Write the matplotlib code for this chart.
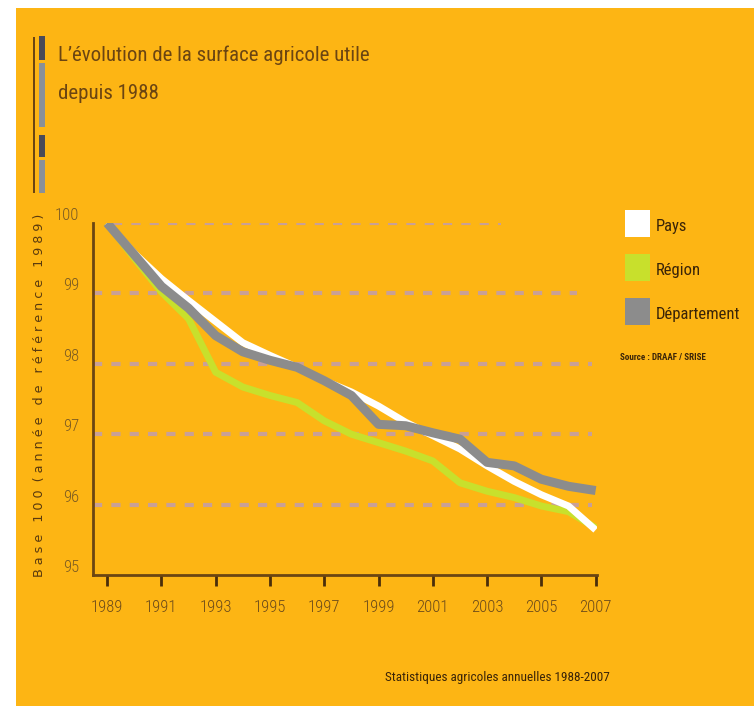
import matplotlib

matplotlib.use("Agg")
import matplotlib.pyplot as plt
from matplotlib import font_manager
from matplotlib.patches import Rectangle

# data (base 100 = 1989)
years = list(range(1989, 2008))
pays = [100.0, 99.57, 99.21, 98.9, 98.6, 98.3, 98.12, 97.95, 97.76, 97.6,
        97.4, 97.17, 96.98, 96.79, 96.55, 96.33, 96.14, 95.98, 95.64]
region = [100.0, 99.5, 99.02, 98.64, 97.88, 97.67, 97.55, 97.45, 97.19, 97.0,
          96.88, 96.76, 96.62, 96.31, 96.19, 96.1, 95.98, 95.9, 95.67]
departement = [100.0, 99.55, 99.1, 98.79, 98.4, 98.17, 98.05, 97.95, 97.76, 97.55,
               97.14, 97.12, 97.02, 96.93, 96.6, 96.55, 96.36, 96.26, 96.2]
series_names = ["Pays", "Région", "Département"]
y_levels = [95, 96, 97, 98, 99, 100]
x_ticks = list(range(1989, 2008, 2))

BG = "#fdb514"
BROWN = "#6b4512"
COLORS = {"Pays": "#ffffff", "Région": "#c8e02c", "Département": "#8c8c8c"}

# pick a narrow face if one is around
installed = {f.name for f in font_manager.fontManager.ttflist}
narrow = "DejaVu Sans"
for cand in ["Liberation Sans Narrow", "Roboto Condensed", "Open Sans Condensed",
             "Noto Sans Condensed", "DejaVu Sans Condensed"]:
    if cand in installed:
        narrow = cand
        break
has_condensed = narrow != "DejaVu Sans"

plt.rcParams["font.family"] = [narrow, "DejaVu Sans"]
plt.rcParams["font.stretch"] = "condensed"

fig = plt.figure(figsize=(7.54, 7.06), dpi=100, facecolor="white")
W, H = 754, 706

# orange panel with white margin on top and left
fig.patches.append(Rectangle((16 / W, 0), 1, 1 - 8 / H, transform=fig.transFigure,
                             facecolor=BG, edgecolor="none", zorder=-2))

# decorative bar next to the title
fig.patches.append(Rectangle((33 / W, 1 - 193 / H), 1.5 / W, 156 / H, transform=fig.transFigure,
                             facecolor=BROWN, edgecolor="none", zorder=-1))
for top, bot, col in [(36, 60, "#4a4a58"), (63, 127, "#8a9098"), (135, 157, "#4a4a58"), (160, 193, "#8a9098")]:
    fig.patches.append(Rectangle((39 / W, 1 - bot / H), 6 / W, (bot - top) / H, transform=fig.transFigure,
                                 facecolor=col, edgecolor="none", zorder=-1))

title_size = 15 if has_condensed else 13
fig.text(58 / W, 1 - 74 / H, "L\u2019évolution de la surface agricole utile\ndepuis 1988",
         ha="left", va="center", fontsize=title_size, color=BROWN, linespacing=2.25)

ax = fig.add_axes([93 / W, 1 - 575 / H, (597 - 93) / W, (575 - 223) / H])
ax.set_zorder(3)
ax.set_facecolor("none")
ax.set_xlim(1988.48, 2007.05)
ax.set_ylim(95, 100)

# dotted guide lines, of uneven length as on the original
grid_ends = {96: 0.99, 97: 0.99, 98: 0.99, 99: 0.96, 100: 0.81}
grid_starts = {96: 0.0, 97: 0.0, 98: 0.0, 99: 0.0, 100: 0.04}
for lev in y_levels[1:]:
    ax.axhline(lev, xmin=grid_starts[lev], xmax=grid_ends[lev], color="#c9a096",
               linewidth=3, linestyle=(0, (2.2, 2.2)), zorder=1)

ax.plot(years, region, color=COLORS["Région"], linewidth=5, solid_capstyle="butt", zorder=2)
ax.plot(years, pays, color=COLORS["Pays"], linewidth=5, solid_capstyle="butt", zorder=3)
ax.plot(years, departement, color=COLORS["Département"], linewidth=6.5, solid_capstyle="butt", zorder=4)

for side in ["top", "right"]:
    ax.spines[side].set_visible(False)
for side in ["left", "bottom"]:
    ax.spines[side].set_color(BROWN)
    ax.spines[side].set_linewidth(2)

tick_size = 12 if has_condensed else 9.5
ax.set_xticks(x_ticks)
ax.set_xticklabels([str(y) for y in x_ticks])
ax.tick_params(axis="x", direction="out", length=8, width=2, color="#4a2e0a",
               labelsize=tick_size, labelcolor="#6b4a1a", pad=10)
ax.set_yticks(y_levels)
ax.set_yticklabels([str(v) for v in y_levels])
ax.tick_params(axis="y", length=0, labelsize=tick_size, labelcolor="#7a5a22", pad=10)
for lbl in ax.get_xticklabels() + ax.get_yticklabels():
    lbl.set_fontweight("light")
for lbl in ax.get_yticklabels():
    lbl.set_verticalalignment("bottom")

fig.text(40 / W, 1 - 395 / H, "B a s e   1 0 0  ( a n n é e   d e   r é f é r e n c e   1 9 8 9 )",
         rotation=90, ha="center", va="center", fontsize=9.2, color="#5a3a0e",
         family=["DejaVu Sans"], fontstretch="normal")

# legend
leg_size = 12 if has_condensed else 10.5
for i, name in enumerate(series_names):
    top = 210 + i * 44
    fig.patches.append(Rectangle((625 / W, 1 - (top + 27) / H), 25 / W, 27 / H, transform=fig.transFigure,
                                 facecolor=COLORS[name], edgecolor="none", zorder=-1))
    fig.text(656 / W, 1 - (top + 16) / H, name, ha="left", va="center", fontsize=leg_size, color="#3a2408")

fig.text(620 / W, 1 - 357 / H, "Source : DRAAF / SRISE", ha="left", va="center",
         fontsize=6.5, color="#3a2408", fontweight="bold")

fig.text(497 / W, 1 - 677 / H, "Statistiques agricoles annuelles 1988-2007", ha="center", va="center",
         fontsize=9.5 if has_condensed else 8.5, color="#3a2408")

fig.savefig("out.png", dpi=100, facecolor="white")
